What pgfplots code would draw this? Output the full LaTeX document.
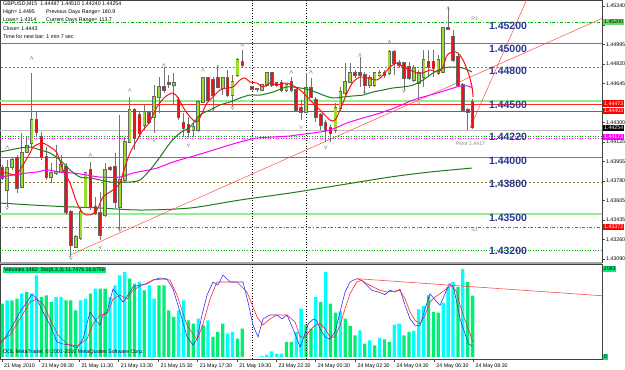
\documentclass[border=0pt]{standalone}
\usepackage{fontspec}
\setmainfont{Liberation Sans}
\usepackage{pgfplots}
\usepackage{pgfplotstable}
\pgfplotsset{compat=1.18}
\definecolor{bull}{HTML}{9ADC2A}
\definecolor{bear}{HTML}{E8141B}
\definecolor{maRed}{HTML}{FF1010}
\definecolor{maGreen}{HTML}{1E7B1E}
\definecolor{maMag}{HTML}{FF00FF}
\definecolor{oliveL}{HTML}{8B7D2B}
\definecolor{lgreen}{HTML}{90EE90}
\definecolor{volC}{HTML}{00FFFF}
\definecolor{volG}{HTML}{00EE76}
\definecolor{lblue}{HTML}{2B3990}
\newcommand{\sm}{\fontsize{5.3}{6.3}\selectfont}
\newcommand{\bl}{\fontsize{10.5}{11}\selectfont\bfseries}
\pgfdeclareplotmark{chevup}{\pgfpathmoveto{\pgfqpoint{-\pgfplotmarksize}{-\pgfplotmarksize}}\pgfpathlineto{\pgfqpoint{0pt}{\pgfplotmarksize}}\pgfpathlineto{\pgfqpoint{\pgfplotmarksize}{-\pgfplotmarksize}}\pgfusepathqstroke}
\pgfdeclareplotmark{chevdn}{\pgfpathmoveto{\pgfqpoint{-\pgfplotmarksize}{\pgfplotmarksize}}\pgfpathlineto{\pgfqpoint{0pt}{-\pgfplotmarksize}}\pgfpathlineto{\pgfqpoint{\pgfplotmarksize}{\pgfplotmarksize}}\pgfusepathqstroke}

\pgfplotstableread{
i o h l c
1 1.43701 1.43968 1.43550 1.43896
2 1.43905 1.43994 1.43879 1.43968
4 1.43728 1.44208 1.43719 1.44030
5 1.44039 1.44172 1.44030 1.44092
6 1.44119 1.44741 1.44083 1.44323
10 1.43816 1.43941 1.43763 1.43852
11 1.43852 1.44101 1.43834 1.43861
12 1.43861 1.44012 1.43852 1.43923
15 1.43194 1.43301 1.43185 1.43283
16 1.43274 1.43541 1.43256 1.43505
17 1.43550 1.43861 1.43541 1.43852
21 1.43479 1.43941 1.43461 1.43879
24 1.43550 1.44368 1.43345 1.43790
25 1.43790 1.44172 1.43763 1.44128
26 1.44128 1.44528 1.44119 1.44412
29 1.44279 1.44457 1.44234 1.44394
31 1.44350 1.44634 1.44208 1.44528
32 1.44528 1.44705 1.44385 1.44617
35 1.44634 1.44741 1.44457 1.44652
39 1.44234 1.44297 1.44172 1.44261
40 1.44234 1.44501 1.44217 1.44483
41 1.44483 1.44705 1.44474 1.44697
45 1.44608 1.44705 1.44545 1.44697
47 1.44545 1.44723 1.44439 1.44661
48 1.44723 1.44874 1.44705 1.44857
52 1.44599 1.44608 1.44572 1.44599
53 1.44590 1.44643 1.44581 1.44634
54 1.44634 1.44750 1.44617 1.44741
58 1.44590 1.44643 1.44572 1.44634
62 1.44394 1.44741 1.44385 1.44608
68 1.44234 1.44474 1.44208 1.44430
69 1.44430 1.44617 1.44394 1.44572
70 1.44563 1.44830 1.44545 1.44661
71 1.44661 1.44830 1.44652 1.44741
75 1.44634 1.44723 1.44608 1.44697
76 1.44634 1.44750 1.44617 1.44741
77 1.44723 1.44768 1.44705 1.44741
79 1.44741 1.44946 1.44723 1.44928
84 1.44679 1.44812 1.44661 1.44785
85 1.44652 1.44768 1.44501 1.44741
86 1.44705 1.44946 1.44617 1.44857
89 1.44741 1.44901 1.44723 1.44857
90 1.44750 1.45150 1.44741 1.45141
}\upc

\pgfplotstableread{
i o h l c
0 1.43896 1.43923 1.43790 1.43808
3 1.43985 1.44012 1.43674 1.43719
7 1.44323 1.44394 1.44172 1.44217
8 1.44172 1.44217 1.43968 1.43994
9 1.43994 1.44083 1.43790 1.43816
13 1.43905 1.43941 1.43479 1.43505
14 1.43505 1.43523 1.43105 1.43212
18 1.43879 1.43950 1.43523 1.43550
19 1.43550 1.43639 1.43479 1.43496
20 1.43496 1.43683 1.43256 1.43301
22 1.43896 1.43914 1.43870 1.43888
23 1.43905 1.44030 1.43541 1.43594
27 1.44412 1.44430 1.44057 1.44163
28 1.44368 1.44394 1.44172 1.44208
30 1.44385 1.44394 1.44288 1.44305
33 1.44617 1.44794 1.44563 1.44590
34 1.44652 1.44723 1.44608 1.44643
36 1.44501 1.44528 1.44323 1.44350
37 1.44297 1.44385 1.44172 1.44252
38 1.44279 1.44350 1.44163 1.44217
42 1.44697 1.44705 1.44483 1.44501
43 1.44679 1.44705 1.44412 1.44545
44 1.44697 1.44812 1.44608 1.44617
46 1.44697 1.44768 1.44528 1.44545
49 1.44839 1.44946 1.44794 1.44812
51 1.44617 1.44625 1.44590 1.44599
55 1.44741 1.44750 1.44617 1.44634
56 1.44652 1.44661 1.44617 1.44634
57 1.44652 1.44679 1.44572 1.44590
59 1.44661 1.44705 1.44572 1.44590
60 1.44590 1.44617 1.44394 1.44412
61 1.44430 1.44501 1.44323 1.44394
63 1.44608 1.44697 1.44519 1.44528
64 1.44501 1.44528 1.44305 1.44350
65 1.44368 1.44385 1.44234 1.44279
66 1.44297 1.44323 1.44128 1.44234
67 1.44252 1.44279 1.44128 1.44208
72 1.44741 1.44768 1.44697 1.44723
73 1.44741 1.44883 1.44617 1.44723
74 1.44723 1.44750 1.44545 1.44634
78 1.44741 1.44768 1.44697 1.44723
80 1.44928 1.44946 1.44723 1.44830
81 1.44830 1.44857 1.44785 1.44812
82 1.44830 1.44839 1.44590 1.44697
83 1.44794 1.44839 1.44679 1.44697
87 1.44839 1.44946 1.44705 1.44794
88 1.44839 1.44946 1.44705 1.44785
91 1.45141 1.45328 1.45123 1.45132
92 1.45061 1.45123 1.44839 1.44857
93 1.44883 1.44919 1.44617 1.44634
94 1.44634 1.44652 1.44394 1.44412
95 1.44412 1.44430 1.44234 1.44394
96 1.44487 1.44510 1.44240 1.44254
}\dnc

\pgfplotstableread{
i p
-0.45 1.43852
0.98 1.43852
2.61 1.43834
3.63 1.43879
5.67 1.44030
6.29 1.44083
8.12 1.44119
9.76 1.44083
11.18 1.44030
12.41 1.43879
13.84 1.43763
15.27 1.43585
16.49 1.43496
17.92 1.43479
19.35 1.43523
20.57 1.43639
22.61 1.43701
24.04 1.43763
24.65 1.43852
26.08 1.44030
27.51 1.44145
28.73 1.44234
29.96 1.44297
31.59 1.44439
33.22 1.44528
34.86 1.44563
35.88 1.44519
36.90 1.44439
38.33 1.44350
39.76 1.44305
40.78 1.44385
41.80 1.44474
42.82 1.44519
44.45 1.44590
45.88 1.44608
47.10 1.44617
48.53 1.44679
49.55 1.44697
50.57 1.44661
52.00 1.44652
53.22 1.44617
54.65 1.44652
56.08 1.44634
58.12 1.44652
60.78 1.44590
62.82 1.44501
64.86 1.44412
66.90 1.44323
67.92 1.44323
68.94 1.44412
70.37 1.44563
71.59 1.44661
73.02 1.44705
74.45 1.44697
76.49 1.44679
77.71 1.44723
79.14 1.44794
80.57 1.44830
81.80 1.44794
83.22 1.44768
84.65 1.44741
85.88 1.44741
87.31 1.44768
88.94 1.44750
89.96 1.44794
90.78 1.44901
92.00 1.44928
93.02 1.44919
94.04 1.44857
95.06 1.44750
95.88 1.44617
96.08 1.44528
}\maR

\pgfplotstableread{
i p
-0.45 1.44039
1.59 1.44057
3.63 1.44074
5.67 1.44083
7.71 1.44057
9.76 1.44030
11.80 1.43968
13.84 1.43879
15.88 1.43816
17.92 1.43808
19.96 1.43790
22.00 1.43772
24.04 1.43772
26.08 1.43772
28.12 1.43790
30.16 1.43879
32.20 1.43994
34.24 1.44119
36.29 1.44208
38.33 1.44261
40.37 1.44368
42.41 1.44412
44.45 1.44457
46.49 1.44483
48.53 1.44519
50.57 1.44545
52.61 1.44545
55.27 1.44572
58.12 1.44617
60.78 1.44608
62.82 1.44590
65.47 1.44545
67.51 1.44519
69.55 1.44528
71.59 1.44537
73.63 1.44545
75.67 1.44572
77.71 1.44590
79.76 1.44608
81.80 1.44617
83.84 1.44634
85.88 1.44679
87.92 1.44741
89.96 1.44785
92.00 1.44794
94.04 1.44785
95.88 1.44750
}\maG

\pgfplotstableread{
i p
-0.45 1.43816
2.20 1.43834
5.06 1.43852
7.10 1.43861
9.14 1.43879
11.80 1.43861
14.45 1.43852
17.31 1.43834
19.96 1.43816
24.04 1.43816
26.69 1.43852
29.96 1.43879
31.59 1.43896
34.86 1.43950
38.33 1.43994
41.80 1.44039
45.06 1.44083
48.53 1.44128
52.00 1.44163
55.27 1.44172
58.73 1.44181
60.16 1.44190
63.43 1.44208
66.90 1.44234
70.37 1.44297
73.63 1.44341
77.10 1.44385
80.57 1.44439
83.84 1.44501
87.31 1.44545
90.78 1.44590
93.43 1.44625
95.06 1.44625
95.88 1.44608
}\maM

\pgfplotstableread{
i p
-0.45 1.43585
9.76 1.43559
19.96 1.43541
28.12 1.43523
38.33 1.43541
48.53 1.43612
58.73 1.43674
68.94 1.43745
79.14 1.43816
87.31 1.43861
95.88 1.43896
}\maL

\pgfplotstableread{
i p
1 1.44083
6 1.44874
18 1.44012
26 1.44590
33 1.44812
41 1.44768
44 1.44794
49 1.44990
59 1.44750
63 1.44750
73 1.44901
79 1.45017
91 1.45319
}\frUp

\pgfplotstableread{
i p
1 1.43541
14 1.43096
20 1.43194
24 1.43345
31 1.44145
38 1.44101
43 1.44412
47 1.44430
61 1.44261
66 1.44083
74 1.44563
82 1.44581
85 1.44474
}\frDn

\pgfplotstableread{
i v
1 1348
4 1506
6 1506
7 1942
11 1427
12 1427
16 1348
17 1388
19 1625
22 1427
23 1705
24 1942
25 2022
28 1784
30 1705
31 1388
36 1110
37 1348
40 912
42 872
46 555
47 595
53 24
54 55
55 135
56 79
57 79
60 595
61 1149
64 1427
66 2021
69 1087
73 635
75 397
77 452
80 768
81 792
84 618
85 1134
86 1213
90 1291
91 1665
92 1784
94 2093
}\volc

\pgfplotstableread{
i v
0 1269
2 1348
3 1388
5 1546
8 1427
9 1467
10 1308
13 1348
14 1348
15 1110
18 1506
20 1625
21 1625
26 1863
27 1744
29 1586
32 1705
33 1705
34 1110
35 952
38 872
39 793
41 753
43 476
44 600
45 793
48 436
49 674
58 357
59 357
62 768
63 673
65 1308
67 1268
68 1053
70 911
71 737
72 516
74 316
76 278
78 421
79 357
82 516
83 595
87 1467
88 1070
89 1053
93 1665
95 1784
96 1462
}\volg

\pgfplotstableread{
i k
-0.45 14.3
0.98 24.2
2.20 35.2
3.63 49.5
5.06 60.4
6.08 69.2
7.10 63.7
8.33 49.5
9.76 35.2
11.18 16.5
12.41 14.3
13.84 13.2
15.27 9.9
16.49 19.8
17.92 49.5
19.35 38.5
19.96 35.2
20.57 46.2
21.39 49.5
22.61 74.7
23.63 68.1
24.65 60.4
25.67 68.1
26.69 76.9
28.12 79.1
29.55 80.2
30.78 84.6
32.20 86.8
33.63 85.7
34.86 74.7
36.29 49.5
37.71 22.0
38.94 13.2
39.76 19.8
40.78 46.2
41.80 68.1
43.02 82.4
44.04 79.1
45.06 90.1
46.49 82.4
47.92 82.4
49.14 82.4
50.16 60.4
51.18 35.2
52.20 22.0
53.22 41.8
54.65 46.2
56.08 46.2
57.10 41.8
58.12 46.2
59.35 30.8
60.80 11.0
61.45 20.1
62.47 36.6
63.49 41.4
64.18 40.3
64.86 31.1
65.88 22.0
66.90 19.5
67.92 27.5
68.94 49.5
69.96 71.4
70.98 82.4
72.35 86.1
73.37 84.3
74.39 78.8
75.41 73.3
76.76 71.4
78.12 68.5
79.14 73.3
80.16 71.4
81.18 74.4
82.20 56.8
83.22 42.1
84.24 34.8
85.27 34.8
86.29 53.1
87.31 69.6
88.12 64.1
89.35 56.8
90.37 69.6
91.24 80.6
92.06 76.9
92.76 60.4
93.43 42.1
94.45 25.6
95.12 14.6
96.00 11.7
}\stK

\pgfplotstableread{
i d
-0.45 16.5
1.59 24.2
3.63 41.8
5.67 60.4
7.10 63.7
8.33 58.2
9.76 41.8
11.39 24.2
13.22 14.3
15.27 12.1
17.31 19.8
18.53 36.3
19.96 46.2
21.39 47.3
22.61 63.7
24.04 68.1
25.47 63.7
26.69 73.6
28.73 79.1
30.78 84.6
32.82 85.7
34.24 84.6
35.67 68.1
37.71 35.2
39.76 18.7
40.98 36.3
42.41 63.7
43.84 82.4
45.88 82.4
47.92 82.4
49.96 71.4
52.00 44.0
53.22 35.2
54.65 41.8
56.08 46.2
58.12 46.2
59.76 38.5
60.80 22.0
61.80 22.0
62.82 29.3
63.84 34.8
64.86 36.6
65.88 31.1
66.90 22.0
67.92 22.0
68.94 34.8
69.96 53.1
70.98 69.6
72.35 82.4
73.37 84.3
74.39 80.6
75.73 76.9
77.10 73.3
78.47 71.4
79.82 72.2
81.18 73.3
82.20 64.1
83.22 49.5
84.24 40.3
85.27 36.6
86.29 45.8
87.31 60.4
88.33 65.9
89.35 69.6
90.71 75.1
91.73 78.8
92.76 71.4
93.43 56.8
94.45 40.3
95.47 25.6
96.00 16.7
}\stD

\begin{document}
\begin{tikzpicture}[x=1pt,y=1pt]
\fill[white] (0,0) rectangle (625,-370);
\path[use as bounding box] (0,0) rectangle (625,-370);

\begin{axis}[at={(0pt,0pt)}, anchor=north west, scale only axis,
  width=602pt, height=262pt,
  xmin=-0.449, xmax=122.4, ymin=1.43061, ymax=1.45390,
  axis line style={black!75, line width=0.6pt},
  xtick=\empty, scaled y ticks=false,
  ytick={1.45340,1.45167,1.44994,1.44821,1.44648,1.44475,1.44302,1.44128,1.43955,1.43782,1.43609,1.43436,1.43263,1.43090},
  yticklabels={1.45340,,1.44995,1.44820,1.44645,,1.44300,1.44125,1.43955,1.43780,1.43605,1.43435,1.43260,1.43090},
  ytick pos=right, yticklabel pos=right, tick align=outside,
  major tick length=2.5pt, tick style={black!70},
  yticklabel style={font=\sm, xshift=-2pt},
  /pgf/number format/assume math mode=true]

\addplot[green!70!black, dash dot, line width=0.6pt] coordinates {(-1,1.45195) (130,1.45195)};
\addplot[oliveL, line width=0.8pt] coordinates {(-1,1.45000) (130,1.45000)};
\addplot[oliveL, dash pattern=on 2pt off 2pt, line width=0.5pt] coordinates {(-1,1.44790) (130,1.44790)};
\addplot[lgreen, line width=2.2pt] coordinates {(-1,1.44495) (130,1.44495)};
\addplot[red!85, line width=0.6pt] coordinates {(-1,1.44465) (130,1.44465)};
\addplot[red!85, line width=0.6pt] coordinates {(-1,1.44403) (130,1.44403)};
\addplot[black!25, line width=0.6pt] coordinates {(-1,1.44236) (130,1.44236)};
\addplot[green!70!black, dotted, line width=0.6pt] coordinates {(-1,1.44182) (130,1.44182)};
\addplot[maMag, dotted, line width=0.6pt] coordinates {(-1,1.44160) (130,1.44160)};
\addplot[oliveL, line width=0.8pt] coordinates {(-1,1.43988) (130,1.43988)};
\addplot[oliveL, dash pattern=on 2pt off 2pt, line width=0.5pt] coordinates {(-1,1.43772) (130,1.43772)};
\addplot[lgreen, line width=1.6pt] coordinates {(-1,1.43485) (130,1.43485)};
\addplot[red!85, dash dot, line width=0.6pt] coordinates {(-1,1.43372) (130,1.43372)};
\addplot[green!70!black, dotted, line width=0.6pt] coordinates {(-1,1.43168) (130,1.43168)};

\addplot[black, dotted, line width=0.6pt] coordinates {(51,1.40) (51,1.46)};
\addplot[black, dotted, line width=0.6pt] coordinates {(62.1,1.40) (62.1,1.46)};

\addplot[maGreen, line width=1pt, smooth] table[x=i,y=p] {\maL};
\addplot[red!70, line width=0.5pt] coordinates {(13.84,1.43123) (122.6,1.45230)};
\addplot[red!70, line width=0.5pt] coordinates {(95.47,1.44252) (107.0,1.45390)};

\addplot[only marks, mark=chevup, mark size=1.6pt, mark options={black!40, line width=0.5pt}] table[x=i,y=p] {\frUp};
\addplot[only marks, mark=chevdn, mark size=1.6pt, mark options={black!40, line width=0.5pt}] table[x=i,y=p] {\frDn};

\addplot[draw=none, no markers, error bars/.cd, y dir=plus, y explicit, error mark=none,
  error bar style={draw=black!55, line width=0.7pt}]
  table[x=i, y=l, y error expr=\thisrow{h}-\thisrow{l}] {\upc};
\addplot[draw=none, no markers, error bars/.cd, y dir=plus, y explicit, error mark=none,
  error bar style={draw=black!55, line width=0.7pt}]
  table[x=i, y=l, y error expr=\thisrow{h}-\thisrow{l}] {\dnc};
\addplot[draw=none, no markers, error bars/.cd, y dir=plus, y explicit, error mark=none,
  error bar style={draw=black!60, line width=3.6pt}]
  table[x=i, y expr=\thisrow{o}-0.00006, y error expr=\thisrow{c}-\thisrow{o}+0.00012] {\upc};
\addplot[draw=none, no markers, error bars/.cd, y dir=plus, y explicit, error mark=none,
  error bar style={draw=black!60, line width=3.6pt}]
  table[x=i, y expr=\thisrow{c}-0.00006, y error expr=\thisrow{o}-\thisrow{c}+0.00012] {\dnc};
\addplot[draw=none, no markers, error bars/.cd, y dir=plus, y explicit, error mark=none,
  error bar style={draw=bull, line width=2.2pt}]
  table[x=i, y=o, y error expr=\thisrow{c}-\thisrow{o}] {\upc};
\addplot[draw=none, no markers, error bars/.cd, y dir=plus, y explicit, error mark=none,
  error bar style={draw=bear, line width=2.2pt}]
  table[x=i, y=c, y error expr=\thisrow{o}-\thisrow{c}] {\dnc};

\addplot[maMag, line width=1pt, smooth] table[x=i,y=p] {\maM};
\addplot[maGreen, line width=1pt, smooth] table[x=i,y=p] {\maG};
\addplot[maRed, line width=1pt, smooth] table[x=i,y=p] {\maR};

\node[anchor=north west, inner sep=1pt, text=lblue, font=\bl] at (axis cs:99.1,1.45200) {1.45200};
\node[anchor=north west, inner sep=1pt, text=lblue, font=\bl] at (axis cs:99.1,1.45000) {1.45000};
\node[anchor=north west, inner sep=1pt, text=lblue, font=\bl] at (axis cs:99.1,1.44800) {1.44800};
\node[anchor=north west, inner sep=1pt, text=lblue, font=\bl] at (axis cs:99.1,1.44500) {1.44500};
\node[anchor=north west, inner sep=1pt, text=lblue, font=\bl] at (axis cs:99.1,1.44220) {1.44220};
\node[anchor=north west, inner sep=1pt, text=lblue, font=\bl] at (axis cs:99.1,1.44000) {1.44000};
\node[anchor=north west, inner sep=1pt, text=lblue, font=\bl] at (axis cs:99.1,1.43800) {1.43800};
\node[anchor=north west, inner sep=1pt, text=lblue, font=\bl] at (axis cs:99.1,1.43500) {1.43500};
\node[anchor=north west, inner sep=1pt, text=lblue, font=\bl] at (axis cs:99.1,1.43200) {1.43200};
\node[anchor=south west, inner sep=1pt, text=black!45, font=\sm] at (axis cs:95.5,1.45195) {R1};
\node[anchor=north west, inner sep=1pt, text=black!45, font=\sm] at (axis cs:95.5,1.43372) {S1};
\node[anchor=north west, inner sep=1pt, text=black!45, font=\sm] at (axis cs:92.3,1.44140) {Pivot 1.4417};

\coordinate (tR1) at (axis cs:122.4,1.45195);
\coordinate (tA) at (axis cs:122.4,1.44470);
\coordinate (tB) at (axis cs:122.4,1.44403);
\coordinate (tC) at (axis cs:122.4,1.44254);
\coordinate (tD) at (axis cs:122.4,1.44173);
\coordinate (tE) at (axis cs:122.4,1.43372);
\end{axis}

\tikzset{tag/.style={anchor=west, inner sep=0.6pt, font=\sm, minimum width=21pt, minimum height=6.5pt}}
\node[tag, fill=green!75!black!60, text=black] at ([xshift=1pt]tR1) {1.45200};
\node[tag, fill=red, text=white] at ([xshift=1pt]tA) {1.44473};
\node[tag, fill=red, text=white] at ([xshift=1pt]tB) {1.44403};
\node[tag, fill=black, text=white] at ([xshift=1pt]tC) {1.44254};
\node[tag, fill=maMag, text=white] at ([xshift=1pt]tD) {1.44173};
\node[tag, fill=red, text=white] at ([xshift=1pt]tE) {1.43372};

\fill[black!35] (0,-261.5) rectangle (602,-264);

\begin{axis}[at={(0pt,-264pt)}, anchor=north west, scale only axis,
  width=602pt, height=95pt,
  xmin=-0.449, xmax=122.4, ymin=-48, ymax=2211,
  axis line style={black!75, line width=0.6pt},
  ytick=\empty,
  xtick={-0.1,7.57,15.67,23.69,31.8,39.82,47.86,55.88,63.9,72,79.96,88.1,96.08},
  xticklabels={21 May 2010,21 May 09:30,21 May 11:30,21 May 13:30,21 May 15:30,21 May 17:30,21 May 19:30,23 May 22:30,24 May 00:30,24 May 02:30,24 May 04:30,24 May 06:30,24 May 08:30},
  xticklabel style={font=\sm, anchor=north west, xshift=-1pt, yshift=1.5pt},
  xtick pos=bottom, tick align=outside, major tick length=2.5pt, tick style={black!70}]
\addplot[ybar, bar width=3.3pt, bar shift=0pt, fill=volC, draw=none] table[x=i,y=v] {\volc};
\addplot[ybar, bar width=3.3pt, bar shift=0pt, fill=volG, draw=none] table[x=i,y=v] {\volg};
\addplot[black, dotted, line width=0.6pt] coordinates {(51,-100) (51,3000)};
\addplot[black, dotted, line width=0.6pt] coordinates {(62.1,-100) (62.1,3000)};
\coordinate (v1) at (axis cs:122.4,2093);
\coordinate (v0) at (axis cs:122.4,0);
\end{axis}

\begin{axis}[at={(0pt,-264pt)}, anchor=north west, scale only axis,
  width=602pt, height=95pt,
  xmin=-0.449, xmax=122.4, ymin=-2.2, ymax=102.2,
  axis lines=none, xtick=\empty, ytick=\empty]
\addplot[blue!80, line width=0.6pt] table[x=i,y=k] {\stK};
\addplot[red!85, line width=0.6pt] table[x=i,y=d] {\stD};
\addplot[red!70, line width=0.6pt] coordinates {(72.35,86.1) (122.4,67.3)};
\end{axis}

\node[tag, fill=volG, text=black, minimum width=12pt] at ([xshift=1pt]v1) {2093};
\node[tag, fill=volG, text=black, minimum width=5pt] at ([xshift=1pt]v0) {0};

\node[anchor=west, inner sep=1pt, fill=volG, font=\sm] at (3,-270) {Volumes 1462 \ Sto(8,3,3) 11.7476 16.6759};
\node[anchor=west, inner sep=0pt, font=\sm] at (3,-352) {OOL MetaTrader, \textcopyright\ 2001-2010 MetaQuotes Software Corp.};

\node[anchor=west, inner sep=0pt, font=\sm] at (3,-4) {GBPUSD,M15 \ 1.44487 1.44510 1.44240 1.44254};
\node[anchor=west, inner sep=0pt, font=\sm] at (3,-12) {High= 1.4495};
\node[anchor=west, inner sep=0pt, font=\sm] at (46,-12) {Previous Days Range= 180.9};
\node[anchor=west, inner sep=0pt, font=\sm] at (3,-20) {Lows= 1.4314};
\node[anchor=west, inner sep=0pt, font=\sm] at (46,-20) {Current Days Range= 113.7};
\node[anchor=west, inner sep=0pt, font=\sm] at (3,-28.5) {Close= 1.4443};
\node[anchor=west, inner sep=0pt, font=\sm] at (3,-36.5) {Time for next bar: 1 min 7 sec};
\end{tikzpicture}
\end{document}
